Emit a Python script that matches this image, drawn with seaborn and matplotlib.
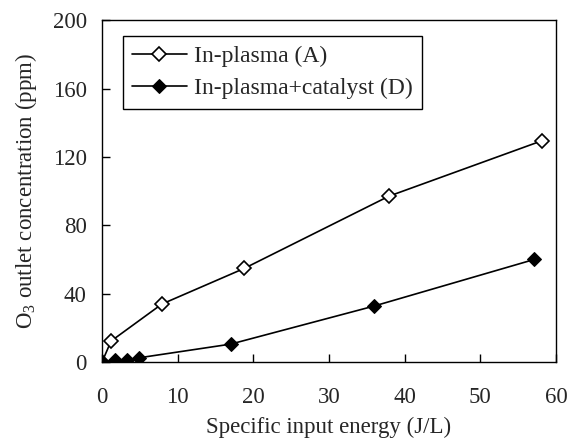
import matplotlib
matplotlib.use("Agg")
import matplotlib.pyplot as plt
import seaborn as sns

# data
energy_a = [0.0, 1.2, 7.9, 18.8, 37.9, 58.1]
o3_a = [0.0, 12.3, 33.9, 54.8, 97.0, 129.4]

energy_d = [0.0, 1.7, 3.3, 4.9, 17.0, 35.9, 57.1]
o3_d = [0.0, 1.0, 1.0, 2.5, 10.5, 32.7, 60.0]

x_ticks = [0, 10, 20, 30, 40, 50, 60]
y_ticks = [0, 40, 80, 120, 160, 200]

sns.set_style("ticks")
plt.rcParams['font.family'] = ['Liberation Serif', 'DejaVu Serif']
plt.rcParams['mathtext.fontset'] = 'custom'
plt.rcParams['mathtext.rm'] = 'Liberation Serif'

fig = plt.figure(figsize=(5.68, 4.47), dpi=100)
ax = fig.add_axes([0.1796, 0.190, 0.7994, 0.765])

sns.lineplot(x=energy_a, y=o3_a, ax=ax, color='black', lw=1.2, marker='D',
             markersize=7, markerfacecolor='white', markeredgecolor='black',
             markeredgewidth=1.2, label='In-plasma (A)', sort=False)
sns.lineplot(x=energy_d, y=o3_d, ax=ax, color='black', lw=1.2, marker='D',
             markersize=7, markerfacecolor='black', markeredgecolor='black',
             label='In-plasma+catalyst (D)', sort=False)

ax.set_xlim(0, 60)
ax.set_ylim(0, 200)
ax.set_xticks(x_ticks)
ax.set_yticks(y_ticks)
ax.tick_params(direction='in', length=6, width=1, labelsize=16.5, color='black')
ax.tick_params(axis='x', pad=18)
ax.tick_params(axis='y', pad=11)
for sp in ax.spines.values():
    sp.set_visible(True)
    sp.set_color('black')
    sp.set_linewidth(1)

ax.set_xlabel('Specific input energy (J/L)', fontsize=16.5, labelpad=6)
ax.set_ylabel(r'O$_3$ outlet concentration (ppm)', fontsize=16.5, labelpad=10)

leg = ax.legend(loc='upper left', fontsize=17, frameon=True, fancybox=False,
                edgecolor='black', handlelength=2.3, borderpad=0.4,
                labelspacing=0.45, handletextpad=0.3, borderaxespad=0,
                bbox_to_anchor=(0.046, 0.953))
leg.get_frame().set_linewidth(1)
leg.get_frame().set_alpha(1)

plt.savefig("out.png", dpi=100)
